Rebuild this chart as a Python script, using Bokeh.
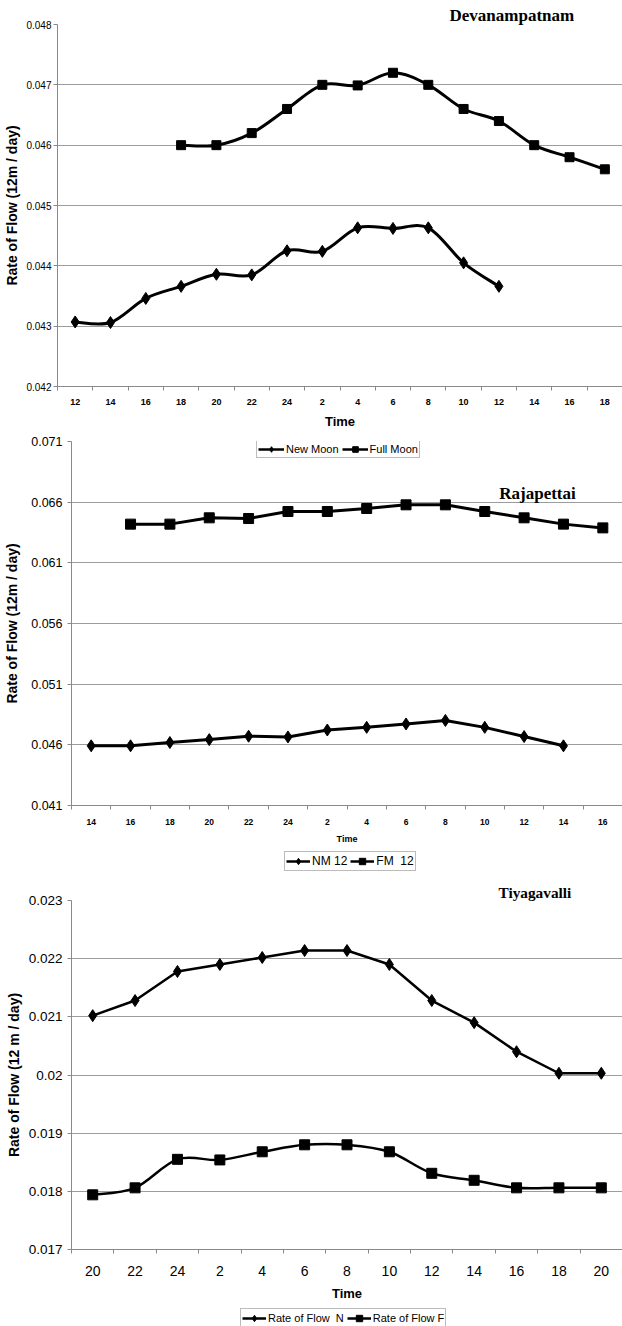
import numpy as np
from bokeh.plotting import figure
from bokeh.layouts import column
from bokeh.models import (Range1d, FixedTicker, CustomJSTickFormatter, Legend,
                          LegendItem, Label)
from bokeh.embed import file_html
from bokeh.resources import INLINE

# ---------------- Data ----------------
# Panel 1: Devanampatnam
dev_times = ["12", "14", "16", "18", "20", "22", "24", "2", "4", "6", "8", "10", "12", "14", "16", "18"]
dev_new_moon = [0.04307, 0.04306, 0.04346, 0.04366, 0.04386, 0.04385, 0.04425, 0.04424,
                0.04463, 0.04462, 0.04463, 0.04405, 0.04366, None, None, None]
dev_full_moon = [None, None, None, 0.0460, 0.0460, 0.0462, 0.0466, 0.0470,
                 0.04699, 0.0472, 0.0470, 0.0466, 0.0464, 0.0460, 0.0458, 0.0456]
dev_yticks = [0.042, 0.043, 0.044, 0.045, 0.046, 0.047, 0.048]
dev_legend = ["New Moon", "Full Moon"]
dev_title = "Devanampatnam"
dev_ylabel = "Rate of Flow (12m / day)"

# Panel 2: Rajapettai
raj_times = ["14", "16", "18", "20", "22", "24", "2", "4", "6", "8", "10", "12", "14", "16"]
raj_nm12 = [0.04592, 0.04592, 0.04619, 0.04643, 0.04671, 0.04665, 0.04722, 0.04744,
            0.04772, 0.04801, 0.04744, 0.04668, 0.04592, None]
raj_fm12 = [None, 0.06419, 0.06419, 0.06471, 0.06465, 0.06523, 0.06523, 0.06548,
            0.06578, 0.06578, 0.06523, 0.06471, 0.06419, 0.06388]
raj_yticks = [0.041, 0.046, 0.051, 0.056, 0.061, 0.066, 0.071]
raj_legend = ["NM 12", "FM  12"]
raj_title = "Rajapettai"
raj_ylabel = "Rate of Flow (12m / day)"

# Panel 3: Tiyagavalli
tiy_times = ["20", "22", "24", "2", "4", "6", "8", "10", "12", "14", "16", "18", "20"]
tiy_flow_n = [0.02102, 0.02128, 0.02178, 0.0219, 0.02202, 0.02214, 0.02214, 0.0219,
              0.02128, 0.0209, 0.0204, 0.02003, 0.02003]
tiy_flow_f = [0.01794, 0.01806, 0.01855, 0.01854, 0.01868, 0.0188, 0.0188, 0.01868,
              0.01831, 0.01819, 0.01806, 0.01806, 0.01806]
tiy_yticks = [0.017, 0.018, 0.019, 0.020, 0.021, 0.022, 0.023]
tiy_legend = ["Rate of Flow  N", "Rate of Flow F"]
tiy_title = "Tiyagavalli"
tiy_ylabel = "Rate of Flow (12 m / day)"

SANS = "Liberation Sans"
SERIF = "Liberation Serif"
GRID = "#9c9c9c"
AXIS = "#8a8a8a"


def pts(vals):
    xs = [i for i, v in enumerate(vals) if v is not None]
    ys = [v for v in vals if v is not None]
    return xs, ys


def draw_series(p, vals, marker, msize, lw, smooth):
    xs, ys = pts(vals)
    if smooth:
        n = len(xs)
        x0, y0, x1, y1, cx0, cy0, cx1, cy1 = [], [], [], [], [], [], [], []
        for i in range(n - 1):
            a = max(i - 1, 0)
            d = min(i + 2, n - 1)
            x0.append(xs[i]); y0.append(ys[i])
            x1.append(xs[i + 1]); y1.append(ys[i + 1])
            cx0.append(xs[i] + (xs[i + 1] - xs[a]) / 6.0)
            cy0.append(ys[i] + (ys[i + 1] - ys[a]) / 6.0)
            cx1.append(xs[i + 1] - (xs[d] - xs[i]) / 6.0)
            cy1.append(ys[i + 1] - (ys[d] - ys[i]) / 6.0)
        p.bezier(x0=x0, y0=y0, x1=x1, y1=y1, cx0=cx0, cy0=cy0, cx1=cx1, cy1=cy1,
                 line_color="black", line_width=lw, line_cap="round")
    else:
        p.line(xs, ys, line_color="black", line_width=lw, line_join="round")
    p.scatter(xs, ys, marker=marker, size=msize, fill_color="black", line_color="black")


def no_align(p):
    if hasattr(p, "frame_align"):
        p.frame_align = False


def make_fig(frame_h, times, yticks, top, bottom, left, ylabel,
             ytick_size, xtick_size, xtick_style, time_size,
             ytick_standoff, ylabel_standoff, xtick_standoff, time_standoff):
    n = len(times)
    p = figure(width=622, frame_height=frame_h, x_range=Range1d(-0.5, n - 0.5),
               y_range=Range1d(yticks[0], yticks[-1]), output_backend="svg",
               toolbar_location=None, min_border_top=top, min_border_bottom=bottom,
               min_border_left=left, min_border_right=0)
    no_align(p)
    p.outline_line_color = None
    p.background_fill_color = "white"
    p.border_fill_color = "white"
    p.xgrid.visible = False
    p.ygrid.ticker = FixedTicker(ticks=yticks[1:-1])
    p.ygrid.grid_line_color = GRID
    p.ygrid.grid_line_width = 1

    ya = p.yaxis[0]
    ya.ticker = FixedTicker(ticks=yticks)
    ya.formatter = CustomJSTickFormatter(code="return parseFloat(tick.toFixed(3)).toString();")
    ya.axis_line_color = AXIS
    ya.major_tick_line_color = AXIS
    ya.major_tick_out = 4
    ya.major_tick_in = 0
    ya.minor_tick_line_color = None
    ya.major_label_text_font = SANS
    ya.major_label_text_font_size = ytick_size
    ya.major_label_text_color = "black"
    ya.major_label_standoff = ytick_standoff
    ya.axis_label = ylabel
    ya.axis_label_text_font = SANS
    ya.axis_label_text_font_style = "bold"
    ya.axis_label_text_font_size = "14px"
    ya.axis_label_text_color = "black"
    ya.axis_label_standoff = ylabel_standoff

    xa = p.xaxis[0]
    xa.ticker = FixedTicker(ticks=list(range(n)),
                            minor_ticks=[i - 0.5 for i in range(n + 1)])
    xa.formatter = CustomJSTickFormatter(
        args=dict(labels=times),
        code="const i = Math.round(tick); return (i >= 0 && i < labels.length) ? labels[i] : '';")
    xa.axis_line_color = AXIS
    xa.major_tick_out = 0
    xa.major_tick_in = 0
    xa.major_tick_line_color = None
    xa.minor_tick_line_color = AXIS
    xa.minor_tick_out = 4
    xa.minor_tick_in = 0
    xa.major_label_text_font = SANS
    xa.major_label_text_font_size = xtick_size
    xa.major_label_text_font_style = xtick_style
    xa.major_label_text_color = "black"
    xa.major_label_standoff = xtick_standoff
    xa.axis_label = "Time"
    xa.axis_label_text_font = SANS
    xa.axis_label_text_font_style = "bold"
    xa.axis_label_text_font_size = time_size
    xa.axis_label_text_color = "black"
    xa.axis_label_standoff = time_standoff
    return p


def set_title(p, text, size, offset):
    p.title.text = text
    p.title.text_font = SERIF
    p.title.text_font_style = "bold"
    p.title.text_font_size = size
    p.title.text_color = "black"
    p.title.align = "left"
    p.title.offset = offset
    p.title.standoff = 0
    p.title.vertical_align = "bottom"


def make_legend(p, labels, loc, font_size, glyph_w, glyph_h, padding):
    items = []
    for lab, mk in zip(labels, ["diamond", "square"]):
        lr = p.line(x=np.array([np.nan]), y=np.array([np.nan]),
                    line_color="black", line_width=2.5)
        sr = p.scatter(x=np.array([np.nan]), y=np.array([np.nan]), marker=mk,
                       fill_color="black", line_color="black")
        items.append(LegendItem(label=lab, renderers=[lr, sr]))
    leg = Legend(items=items, location=loc, orientation="horizontal",
                 label_text_font=SANS, label_text_font_size=font_size,
                 label_text_color="black", glyph_width=glyph_w, glyph_height=glyph_h,
                 label_height=glyph_h, label_standoff=2, spacing=3, padding=padding,
                 margin=0, border_line_color="#7a7a7a", border_line_width=1,
                 background_fill_color="white", background_fill_alpha=1.0)
    p.add_layout(leg)
    return leg


def legend_strip(height):
    p = figure(width=622, height=height, x_range=Range1d(0, 1), y_range=Range1d(0, 1),
               output_backend="svg", toolbar_location=None, min_border=0,
               x_axis_location=None, y_axis_location=None)
    no_align(p)
    p.outline_line_color = None
    p.xgrid.visible = False
    p.ygrid.visible = False
    p.background_fill_color = "white"
    p.border_fill_color = "white"
    return p


# ---------------- Panel 1 ----------------
p1 = make_fig(362, dev_times, dev_yticks, top=24, bottom=48, left=57, ylabel=dev_ylabel,
              ytick_size="10px", xtick_size="9px", xtick_style="bold", time_size="13px",
              ytick_standoff=2, ylabel_standoff=3, xtick_standoff=8, time_standoff=6)
draw_series(p1, dev_new_moon, "diamond", 12, 3, True)
draw_series(p1, dev_full_moon, "square", 9, 3, True)
set_title(p1, dev_title, "17px", 392)

# ---------------- Panel 2 ----------------
p2 = make_fig(364, raj_times, raj_yticks, top=7, bottom=40, left=71, ylabel=raj_ylabel,
              ytick_size="12.5px", xtick_size="8.5px", xtick_style="bold", time_size="9px",
              ytick_standoff=5, ylabel_standoff=8, xtick_standoff=9, time_standoff=6)
draw_series(p2, raj_nm12, "diamond", 12, 3, False)
draw_series(p2, raj_fm12, "square", 10, 3, False)
p2.add_layout(Label(x=11.34, y=0.06674, text=raj_title, text_font=SERIF,
                    text_font_style="bold", text_font_size="17px", text_align="center",
                    text_baseline="middle", text_color="black"))
# legend of the first panel sits at the top of this panel's plot area
make_legend(p2, dev_legend, (185, 347), "11px", 26, 14, 1)

# legend strip of panel 2
s2 = legend_strip(35)
make_legend(s2, raj_legend, (284, 10), "12px", 24, 16, 1)

# ---------------- Panel 3 ----------------
p3 = make_fig(349, tiy_times, tiy_yticks, top=17, bottom=55, left=71, ylabel=tiy_ylabel,
              ytick_size="13.5px", xtick_size="14px", xtick_style="normal", time_size="13px",
              ytick_standoff=5, ylabel_standoff=4, xtick_standoff=12, time_standoff=7)
draw_series(p3, tiy_flow_n, "diamond", 12, 2.5, False)
draw_series(p3, tiy_flow_f, "square", 10, 2.5, True)
set_title(p3, tiy_title, "15.3px", 427)

# legend strip of panel 3 (cut by the page bottom as in the original)
s3 = legend_strip(30)
make_legend(s3, tiy_legend, (240, 6), "11px", 24, 16, 1)

layout = column(p1, p2, s2, p3, s3, spacing=0)
open("out.html", "w").write(file_html(layout, INLINE))
